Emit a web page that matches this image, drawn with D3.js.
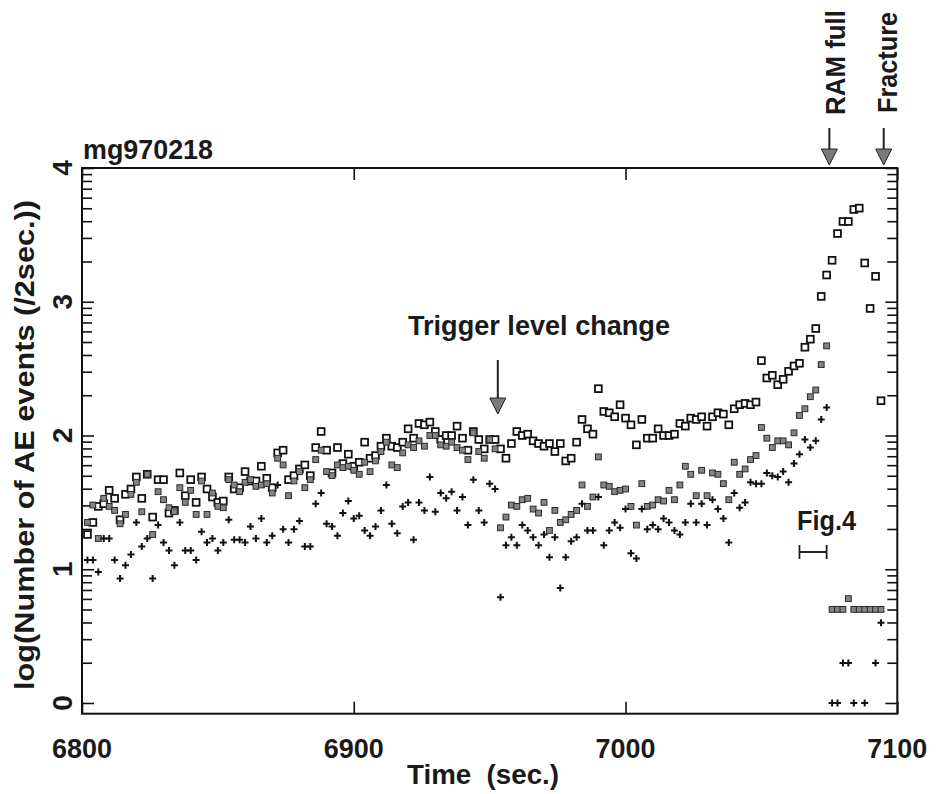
<!DOCTYPE html>
<html><head><meta charset="utf-8">
<script src="https://cdn.jsdelivr.net/npm/d3@7"></script>
<style>body{margin:0;background:#fff}svg{display:block}text{font-family:"Liberation Sans",Arial,sans-serif;font-weight:bold;fill:#1a1a1a}</style>
</head><body><svg id="c" width="936" height="794"></svg>
<script>
// ---- data ----
const times = [
6802,6804,6806,6808,6810,6812,6814,6816,6818,6820,
6822,6824,6826,6828,6830,6832,6834,6836,6838,6840,
6842,6844,6846,6848,6850,6852,6854,6856,6858,6860,
6862,6864,6866,6868,6870,6872,6874,6876,6878,6880,
6882,6884,6886,6888,6890,6892,6894,6896,6898,6900,
6902,6904,6906,6908,6910,6912,6914,6916,6918,6920,
6922,6924,6926,6928,6930,6932,6934,6936,6938,6940,
6942,6944,6946,6948,6950,6952,6954,6956,6958,6960,
6962,6964,6966,6968,6970,6972,6974,6976,6978,6980,
6982,6984,6986,6988,6990,6992,6994,6996,6998,7000,
7002,7004,7006,7008,7010,7012,7014,7016,7018,7020,
7022,7024,7026,7028,7030,7032,7034,7036,7038,7040,
7042,7044,7046,7048,7050,7052,7054,7056,7058,7060,
7062,7064,7066,7068,7070,7072,7074,7076,7078,7080,
7082,7084,7086,7088,7090,7092,7094];
const openSquares = [
1.26,1.35,1.47,1.49,1.59,1.53,1.37,1.56,1.60,1.69,
1.53,1.71,1.39,1.67,1.67,1.42,1.44,1.72,1.55,1.67,
1.50,1.69,1.60,1.54,1.50,1.51,1.69,1.60,1.61,1.73,
1.66,1.66,1.77,1.68,1.61,1.87,1.89,1.67,1.70,1.75,
1.78,1.70,1.91,2.03,1.89,1.72,1.91,1.79,1.86,1.77,
1.80,1.95,1.83,1.85,1.92,1.98,1.92,1.91,1.95,2.05,
1.98,2.09,2.08,2.10,2.03,1.97,2.00,2.00,2.07,1.98,
1.89,2.03,1.97,1.90,1.97,1.97,1.90,1.83,1.94,2.03,
2.00,2.01,1.96,1.94,1.92,1.94,1.88,1.94,1.81,1.83,
1.95,2.12,2.05,2.01,2.35,2.18,2.17,2.14,2.23,2.13,
2.08,1.93,2.12,1.98,1.98,2.05,2.00,2.00,2.01,2.09,
2.07,2.13,2.12,2.14,2.07,2.14,2.17,2.16,2.08,2.20,
2.23,2.24,2.23,2.25,2.56,2.43,2.45,2.38,2.42,2.48,
2.52,2.54,2.66,2.72,2.80,3.04,3.20,3.31,3.51,3.60,
3.60,3.69,3.70,3.29,2.95,3.19,2.26];
const graySquares = [
1.35,1.48,1.23,1.53,1.47,1.44,1.34,1.41,1.56,1.65,
1.43,1.71,1.26,1.58,1.52,1.46,1.43,1.61,1.50,1.59,
1.41,1.66,1.41,1.57,1.47,1.46,1.67,1.63,1.58,1.65,
1.67,1.62,1.63,1.64,1.57,1.83,1.78,1.55,1.66,1.73,
1.61,1.67,1.82,1.89,1.73,1.70,1.78,1.76,1.77,1.74,
1.71,1.80,1.73,1.81,1.88,1.95,1.78,1.76,1.87,1.93,
1.91,1.96,1.92,2.00,2.00,1.93,1.92,1.95,1.91,1.89,
1.82,2.02,1.88,1.83,1.97,1.90,1.31,1.39,1.48,1.47,
1.52,1.53,1.45,1.42,1.50,1.29,1.44,1.35,1.37,1.41,
1.44,1.63,1.47,1.54,1.84,1.63,1.62,1.58,1.59,1.60,
1.47,1.33,1.64,1.47,1.48,1.52,1.51,1.59,1.52,1.63,
1.77,1.71,1.55,1.74,1.55,1.72,1.71,1.64,1.52,1.80,
1.71,1.75,1.82,1.85,2.06,1.98,1.91,1.96,1.96,1.93,
2.02,2.15,2.20,2.29,2.34,2.53,2.67,0.70,0.70,0.70,
0.78,0.70,0.70,0.70,0.70,0.70,0.70];
const plusSigns = [
1.07,1.07,0.98,1.23,1.23,1.07,0.93,1.03,1.11,1.35,
1.17,1.23,0.93,1.33,1.20,1.14,1.03,1.35,1.14,1.14,
1.07,1.28,1.20,1.23,1.14,1.20,1.37,1.22,1.22,1.20,
1.32,1.23,1.38,1.20,1.25,1.63,1.30,1.20,1.30,1.36,
1.17,1.17,1.49,1.57,1.34,1.32,1.25,1.42,1.51,1.38,
1.40,1.29,1.25,1.32,1.44,1.63,1.34,1.27,1.47,1.50,
1.22,1.50,1.44,1.69,1.43,1.57,1.53,1.58,1.44,1.54,
1.33,1.67,1.44,1.35,1.64,1.60,0.79,1.18,1.24,1.18,
1.33,1.29,1.24,1.18,1.26,1.09,1.24,0.86,1.09,1.21,
1.24,1.49,1.29,1.29,1.54,1.18,1.29,1.35,1.31,1.45,
1.12,1.08,1.45,1.30,1.33,1.30,1.38,1.35,1.29,1.26,
1.35,1.49,1.35,1.49,1.33,1.52,1.45,1.38,1.20,1.57,
1.46,1.50,1.65,1.64,1.64,1.72,1.70,1.69,1.73,1.65,
1.79,1.86,1.97,1.91,1.96,2.12,2.21,0,0,0.30,
0.30,0,null,0,null,0.30,0.60];
const xTickValues = [6800, 6900, 7000, 7100];
const yMajorTicks = [0, 1, 2, 3, 4];
const yMinorMultipliers = [2, 3, 4, 5, 6, 7, 8, 9];
const chartTitle = "mg970218";
const xLabel = "Time  (sec.)";
const yLabel = "log(Number of AE events (/2sec.))";
const triggerTime = 6953, triggerText = "Trigger level change";
const ramFullTime = 7075, ramFullText = "RAM full";
const fractureTime = 7095, fractureText = "Fracture";
const figRange = [7064, 7074], figText = "Fig.4";

// ---- layout ----
const svg = d3.select("#c");
const x = d3.scaleLinear().domain([6800, 7100]).range([82, 897.3]);
const y = d3.scaleLinear().domain([-0.08, 4]).range([713.7, 168]);
const L = 82, R = 897.3, T = 168, B = 713.7;

// frame
svg.append("rect").attr("x", L).attr("y", T).attr("width", R - L).attr("height", B - T)
  .attr("fill", "none").attr("stroke", "#111").attr("stroke-width", 2);

// y ticks (major + log minor) on both sides, inward
const minor = [];
for (let d = 0; d < 4; d++) yMinorMultipliers.forEach(k => minor.push(d + Math.log10(k)));
const yAxisL = d3.axisLeft(y).tickValues(yMajorTicks).tickSize(-12).tickFormat("");
const yAxisLm = d3.axisLeft(y).tickValues(minor).tickSize(-10).tickFormat("");
const yAxisR = d3.axisRight(y).tickValues(yMajorTicks).tickSize(-12).tickFormat("");
const yAxisRm = d3.axisRight(y).tickValues(minor).tickSize(-10).tickFormat("");
[[yAxisL, L], [yAxisLm, L], [yAxisR, R], [yAxisRm, R]].forEach(([a, px]) => {
  const g = svg.append("g").attr("transform", `translate(${px},0)`).call(a);
  g.select(".domain").remove();
  g.selectAll("line").attr("stroke", "#111").attr("stroke-width", 1.6);
});
// x ticks top & bottom, inward
const xb = svg.append("g").attr("transform", `translate(0,${B})`)
  .call(d3.axisBottom(x).tickValues(xTickValues).tickSize(-12).tickFormat(""));
const xt = svg.append("g").attr("transform", `translate(0,${T})`)
  .call(d3.axisTop(x).tickValues(xTickValues).tickSize(-12).tickFormat(""));
[xb, xt].forEach(g => { g.select(".domain").remove(); g.selectAll("line").attr("stroke", "#111").attr("stroke-width", 1.6); });

// tick labels
svg.append("g").selectAll("text").data(xTickValues).join("text")
  .attr("x", d => x(d)).attr("y", 758).attr("text-anchor", "middle")
  .attr("font-size", 28).attr("textLength", 60).attr("lengthAdjust", "spacingAndGlyphs")
  .text(d => d);
svg.append("g").selectAll("text").data(yMajorTicks).join("text")
  .attr("transform", d => `translate(72,${y(d)}) rotate(-90)`)
  .attr("text-anchor", "middle").attr("font-size", 28).text(d => d);

// axis titles
svg.append("text").attr("x", 407).attr("y", 784).attr("font-size", 28)
  .attr("textLength", 152).attr("lengthAdjust", "spacingAndGlyphs")
  .style("white-space", "pre").text(xLabel);
svg.append("text").attr("transform", "translate(34,445) rotate(-90)")
  .attr("text-anchor", "middle").attr("font-size", 28)
  .attr("textLength", 490).attr("lengthAdjust", "spacingAndGlyphs").text(yLabel);
svg.append("text").attr("x", 83).attr("y", 159).attr("font-size", 28)
  .attr("textLength", 130).attr("lengthAdjust", "spacingAndGlyphs").text(chartTitle);

// data points
const openPts = times.map((t, i) => ({t, v: openSquares[i]})).filter(d => d.v != null);
const grayPts = times.map((t, i) => ({t, v: graySquares[i]})).filter(d => d.v != null);
const plusPts = times.map((t, i) => ({t, v: plusSigns[i]})).filter(d => d.v != null);

svg.append("g").selectAll("rect").data(openPts).join("rect")
  .attr("x", d => x(d.t) - 3.4).attr("y", d => y(d.v) - 3.4).attr("width", 6.8).attr("height", 6.8)
  .attr("fill", "#fff").attr("stroke", "#111").attr("stroke-width", 1.8);
svg.append("g").selectAll("rect").data(grayPts).join("rect")
  .attr("x", d => x(d.t) - 2.9).attr("y", d => y(d.v) - 2.9).attr("width", 5.8).attr("height", 5.8)
  .attr("fill", "#858585").attr("stroke", "#2a2a2a").attr("stroke-width", 1);
svg.append("g").selectAll("path").data(plusPts).join("path")
  .attr("d", d => { const cx = x(d.t), cy = y(d.v); return `M${cx-3.5},${cy}H${cx+3.5}M${cx},${cy-3.5}V${cy+3.5}`; })
  .attr("stroke", "#111").attr("stroke-width", 2).attr("fill", "none");

// arrows
function arrow(t, y0, y1) {
  const cx = x(t);
  svg.append("line").attr("x1", cx).attr("x2", cx).attr("y1", y0).attr("y2", y1 - 14)
    .attr("stroke", "#222").attr("stroke-width", 2);
  svg.append("path").attr("d", `M${cx-8},${y1-16}L${cx+8},${y1-16}L${cx},${y1}Z`)
    .attr("fill", "#7a7a7a").attr("stroke", "#222").attr("stroke-width", 1);
}
arrow(triggerTime, 360, 414);
arrow(ramFullTime, 128, 165);
arrow(fractureTime, 128, 165);

svg.append("text").attr("x", 408).attr("y", 335).attr("font-size", 28)
  .attr("textLength", 262).attr("lengthAdjust", "spacingAndGlyphs").text(triggerText);
svg.append("text").attr("transform", `translate(${x(ramFullTime) + 16},115) rotate(-90)`)
  .attr("font-size", 28).attr("textLength", 105).attr("lengthAdjust", "spacingAndGlyphs").text(ramFullText);
svg.append("text").attr("transform", `translate(${x(fractureTime) + 13},113) rotate(-90)`)
  .attr("font-size", 28).attr("textLength", 101).attr("lengthAdjust", "spacingAndGlyphs").text(fractureText);

// Fig.4 interval marker
const fy = 552;
svg.append("path")
  .attr("d", `M${x(figRange[0])},${fy-7}V${fy+7}M${x(figRange[0])},${fy}H${x(figRange[1])}M${x(figRange[1])},${fy-7}V${fy+7}`)
  .attr("stroke", "#222").attr("stroke-width", 1.8).attr("fill", "none");
svg.append("text").attr("x", 797).attr("y", 530).attr("font-size", 28)
  .attr("textLength", 59).attr("lengthAdjust", "spacingAndGlyphs").text(figText);
</script></body></html>
